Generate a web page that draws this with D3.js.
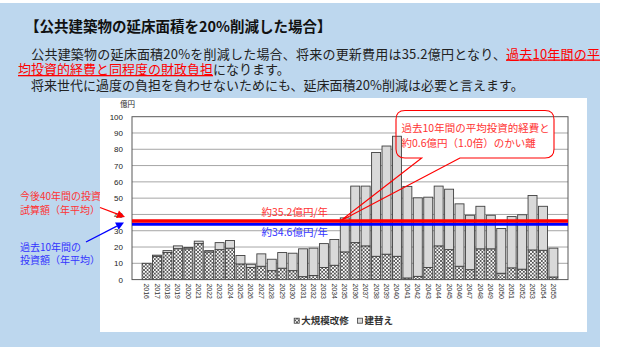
<!DOCTYPE html>
<html><head><meta charset="utf-8">
<script src="https://cdn.jsdelivr.net/npm/d3@7"></script>
<style>
body{margin:0;background:#fff}
svg{display:block}
text{font-family:"Noto Sans CJK JP","Noto Sans",sans-serif}
</style>
</head><body>
<svg id="c" width="620" height="350"></svg>
<script>
// ---------- data ----------
const years = ["2016","2017","2018","2019","2020","2021","2022","2023","2024","2025",
  "2026","2027","2028","2029","2030","2031","2032","2033","2034","2035",
  "2036","2037","2038","2039","2040","2041","2042","2043","2044","2045",
  "2046","2047","2048","2049","2050","2051","2052","2053","2054","2055"];
const renovation = [10,14.3,16.6,19,18.9,22.1,17,18.4,19.3,9.6,
  7.4,8.2,5.5,7,5.5,1.8,2.5,7.4,8.8,17,
  22.7,20.7,14.3,15.6,14.3,1,2,7.4,20.7,18.4,
  8.2,6.1,18.9,18.9,3.9,7.2,6.4,18.2,18,1.6];
const rebuild = [0,0.7,1.2,1.7,0.8,1.5,0.8,4.3,4.7,5.2,
  2,7.6,7,9.6,10.7,17.1,16.8,14.7,15.8,20.9,
  34.7,36.7,63.7,66.4,73.7,56.2,48.2,43.2,36.7,37.1,
  38.3,33.4,26.1,20.6,27.5,31.5,33.4,33.4,27,17.7];
const seriesNames = ["大規模改修","建替え"];
const yTicks = [0,10,20,30,40,50,60,70,80,90,100];
const futureAvg = 35.2;   // 今後40年間の投資試算額（年平均）
const pastAvg = 34.6;     // 過去10年間の投資額（年平均）
const futureLabel = "約35.2億円/年";
const pastLabel = "約34.6億円/年";
const calloutLines = ["過去10年間の平均投資的経費と","約0.6億円（1.0倍）のかい離"];
const yUnit = "億円";

// ---------- drawing ----------
const svg = d3.select("#c");
const RED = "#FF0000", BLUE = "#0000FF", RED_T = "#FF3333", BLUE_T = "#3333FF";

const defs = svg.append("defs");
const pat = defs.append("pattern").attr("id","hatch").attr("patternUnits","userSpaceOnUse")
  .attr("width",3.6).attr("height",3.6);
pat.append("rect").attr("width",3.6).attr("height",3.6).attr("fill","#fff");
pat.append("path").attr("d","M0,0L3.6,3.6M3.6,0L0,3.6").attr("stroke","#555").attr("stroke-width",0.9);

// background
svg.append("rect").attr("x",0).attr("y",3).attr("width",600).attr("height",344).attr("fill","#BDD7EE");

// header
svg.append("text").attr("x",25).attr("y",31.5).attr("font-size",14.5).attr("font-weight","bold")
  .attr("fill","#111").text("【公共建築物の延床面積を20%削減した場合】");
const t1 = svg.append("text").attr("x",18).attr("y",58.5).attr("font-size",13)
  .attr("textLength",582).attr("lengthAdjust","spacing").attr("fill","#222");
t1.append("tspan").text("　公共建築物の延床面積20%を削減した場合、将来の更新費用は35.2億円となり、");
t1.append("tspan").attr("fill",RED).attr("text-decoration","underline").text("過去10年間の平");
const t2 = svg.append("text").attr("x",18).attr("y",74).attr("font-size",13).attr("fill","#222");
t2.append("tspan").attr("fill",RED).attr("text-decoration","underline").text("均投資的経費と同程度の財政負担");
t2.append("tspan").text("になります。");
svg.append("text").attr("x",18).attr("y",89.5).attr("font-size",13).attr("fill","#222")
  .text("　将来世代に過度の負担を負わせないためにも、延床面積20%削減は必要と言えます。");

// left annotations (partly hidden by panel)
const ann = [
  {lines:["今後40年間の投資","試算額（年平均）"], y:[200,213.5], color:RED_T},
  {lines:["過去10年間の","投資額（年平均）"], y:[250.5,263.5], color:BLUE_T}
];
ann.forEach(a=>a.lines.forEach((l,i)=>svg.append("text").attr("x",20).attr("y",a.y[i])
  .attr("font-size",10).attr("fill",a.color).text(l)));

// white panel
svg.append("rect").attr("x",100).attr("y",98).attr("width",487).attr("height",234).attr("fill","#fff");

const plot = {l:132, r:568, t:116.7, b:279.6};
const x = d3.scaleBand().domain(years).range([plot.l, plot.r]).paddingInner(0.14).paddingOuter(0.97);
const y = d3.scaleLinear().domain([0,100]).range([plot.b, plot.t]);

// gridlines
svg.append("g").selectAll("line").data(yTicks.filter(v=>v>0 && v<100)).join("line")
  .attr("x1",plot.l).attr("x2",plot.r).attr("y1",d=>y(d)).attr("y2",d=>y(d))
  .attr("stroke","#A6A6A6").attr("stroke-width",1);

// y axis
const ya = svg.append("g").attr("transform",`translate(${plot.l},0)`)
  .call(d3.axisLeft(y).tickValues(yTicks).tickSize(0).tickPadding(9));
ya.select(".domain").remove();
ya.selectAll("text").attr("font-size",8).attr("fill","#222").style("font-family","'Liberation Sans',Arial,sans-serif");
svg.append("text").attr("x",127.5).attr("y",106.5).attr("text-anchor","middle").attr("font-size",7.5)
  .attr("fill","#222").text(yUnit);

// x axis
const xa = svg.append("g").attr("transform",`translate(0,${plot.b})`)
  .call(d3.axisBottom(x).tickSize(0));
xa.select(".domain").remove();
xa.selectAll("text").attr("transform","rotate(90)").attr("x",3.8).attr("y",0).attr("dy","0.35em")
  .attr("text-anchor","start").attr("font-size",7).attr("fill","#333")
  .style("font-family","'Liberation Sans',Arial,sans-serif");

// callout box fill (behind bars)
const box = {x0:396, y0:110.5, x1:554, y1:158, r:9};
svg.append("rect").attr("x",box.x0).attr("y",box.y0).attr("width",box.x1-box.x0).attr("height",box.y1-box.y0)
  .attr("rx",box.r).attr("fill","#fff");

// bars
const table = years.map((yr,i)=>({year:yr, [seriesNames[0]]:renovation[i], [seriesNames[1]]:rebuild[i]}));
const stacked = d3.stack().keys(seriesNames)(table);
const fills = ["url(#hatch)","#D9D9D9"];
stacked.forEach((s,si)=>{
  svg.append("g").selectAll("rect").data(s.filter(d=>d[1]-d[0]>0)).join("rect")
    .attr("x",d=>x(d.data.year)).attr("width",x.bandwidth())
    .attr("y",d=>y(d[1])).attr("height",d=>y(d[0])-y(d[1]))
    .attr("fill",fills[si]).attr("stroke","#404040").attr("stroke-width",0.9);
});

// plot border
svg.append("rect").attr("x",plot.l).attr("y",plot.t).attr("width",plot.r-plot.l).attr("height",plot.b-plot.t)
  .attr("fill","none").attr("stroke","#595959").attr("stroke-width",1);

// average lines
const yRed = y(futureAvg)-1.2, yBlue = y(pastAvg)+1;
svg.append("line").attr("x1",plot.l).attr("x2",plot.r).attr("y1",yBlue).attr("y2",yBlue)
  .attr("stroke",BLUE).attr("stroke-width",3);
svg.append("line").attr("x1",plot.l).attr("x2",plot.r).attr("y1",yRed).attr("y2",yRed)
  .attr("stroke",RED).attr("stroke-width",3.4);
svg.append("text").attr("x",261.5).attr("y",215.5).attr("font-size",10.5).attr("fill",RED_T).text(futureLabel);
svg.append("text").attr("x",261.5).attr("y",235.5).attr("font-size",10.5).attr("fill",BLUE_T).text(pastLabel);

// callout outline with pointer
const ax = x("2035"), ay = yRed;
const p1 = 421.7, p2 = 460;
const {x0,y0,x1,y1,r} = box;
const path = `M${p2},${y1} L${ax},${ay} L${p1},${y1} H${x0+r} Q${x0},${y1} ${x0},${y1-r} V${y0+r} Q${x0},${y0} ${x0+r},${y0} H${x1-r} Q${x1},${y0} ${x1},${y0+r} V${y1-r} Q${x1},${y1} ${x1-r},${y1} Z`;
svg.append("path").attr("d",path).attr("fill","none").attr("stroke",RED).attr("stroke-width",1.1);
calloutLines.forEach((l,i)=>svg.append("text").attr("x",401.5).attr("y",132+i*14.5)
  .attr("font-size",10.5).attr("fill",RED_T).text(l));

// arrows
function arrow(xs,ys,xe,ye,color){
  const ang = Math.atan2(ye-ys, xe-xs), L=8, W=4;
  const bx = xe - L*Math.cos(ang), by = ye - L*Math.sin(ang);
  svg.append("line").attr("x1",xs).attr("y1",ys).attr("x2",bx).attr("y2",by)
    .attr("stroke",color).attr("stroke-width",1.3);
  const px = -Math.sin(ang)*W, py = Math.cos(ang)*W;
  svg.append("path").attr("d",`M${xe},${ye}L${bx+px},${by+py}L${bx-px},${by-py}Z`).attr("fill",color);
}
arrow(100,207.5,125,217,RED);
arrow(86,242,124,222.5,BLUE);

// legend
const lg = svg.append("g");
const legendItems = [{x:296.7, fill:fills[0], label:seriesNames[0]},{x:360, fill:fills[1], label:seriesNames[1]}];
legendItems.forEach(it=>{
  lg.append("rect").attr("x",it.x-2.5).attr("y",318.2).attr("width",5).attr("height",5)
    .attr("fill",it.fill).attr("stroke","#404040").attr("stroke-width",0.8);
  lg.append("text").attr("x",it.x+4.5).attr("y",324.3).attr("font-size",9.5).attr("font-weight",600)
    .attr("fill","#333").text(it.label);
});
</script>
</body></html>
